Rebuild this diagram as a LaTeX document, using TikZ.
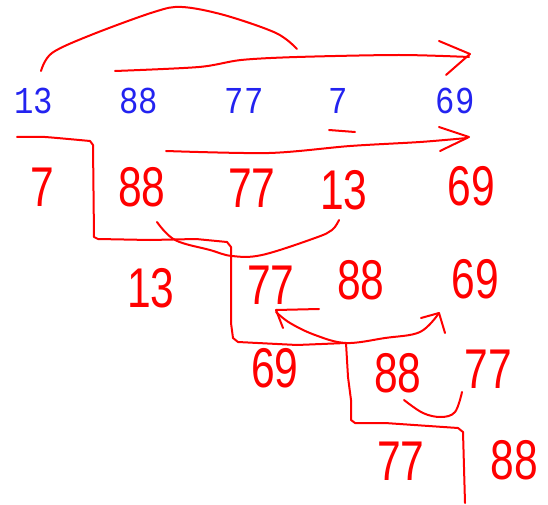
\documentclass[tikz,border=0pt]{standalone}
\usepackage{fontspec}
\newfontfamily\monofont[FakeStretch=0.85]{Liberation Mono}
\newfontfamily\handfont[FakeStretch=0.76]{Liberation Sans}
\definecolor{penred}{RGB}{255,0,0}
\definecolor{penblue}{RGB}{35,35,240}
\begin{document}
\begin{tikzpicture}[x=1pt,y=-1pt,
  bluenum/.style={text=penblue,font=\monofont\fontsize{38}{38}\selectfont,inner sep=0pt},
  rednum/.style={text=penred,font=\handfont\fontsize{56}{56}\selectfont,inner sep=0pt},
  pen/.style={draw=penred,line width=2pt,line cap=round,line join=round}]
\useasboundingbox (0,0) rectangle (548,505);
% blue row
\node[bluenum] (b13) at (34,101) {13};
\node[bluenum] (b88) at (139,101) {88};
\node[bluenum] (b77) at (244,101) {77};
\node[bluenum] (b7)  at (338,101) {7};
\node[bluenum] (b69) at (455,101) {69};
% red row 2
\node[rednum] (r7)   at (42,187) {7};
\node[rednum] (r88)  at (142,187) {88};
\node[rednum] (r77)  at (252,188) {77};
\node[rednum] (r13)  at (344,190) {13};
\node[rednum] (r69)  at (471,186) {69};
% row 3
\node[rednum] (s13)  at (151,288) {13};
\node[rednum] (s77)  at (271,285) {77};
\node[rednum] (s88)  at (361,280) {88};
\node[rednum] (s69)  at (475,279) {69};
% row 4
\node[rednum] (t69)  at (275,368) {69};
\node[rednum] (t88)  at (398,373) {88};
\node[rednum] (t77)  at (488,369) {77};
% row 5
\node[rednum] (u77)  at (401,461) {77};
\node[rednum] (u88)  at (514,460) {88};
% strokes
\draw[pen] plot[smooth,tension=0.55] coordinates {(41,71) (52,53) (91,35) (154,12) (182,7) (224,15) (276,33) (297,49)};
\draw[pen] plot[smooth,tension=0.5] coordinates {(115,71) (199,67) (241,60) (297,57) (399,55) (469,57)};
\draw[pen] (439,41) -- (470,54) -- (446,75);
\draw[pen] (329,130) -- (355,132);
\draw[pen] plot[smooth,tension=0.5] coordinates {(166,151) (269,153) (350,146) (420,142) (467,138)};
\draw[pen] (439,127) -- (469,137) -- (440,151);
\draw[pen] plot[smooth,tension=0.3] coordinates {(17,137) (45,137) (90,141)};
\draw[pen] (90,141) -- (93,145) -- (94,237) -- (98,239) -- (150,240) -- (196,239) -- (227,242) -- (231,247) -- (231,323) -- (233,338) -- (238,342) -- (297,345) -- (346,343);
\draw[pen] plot[smooth,tension=0.6] coordinates {(157,222) (175,240) (210,250) (232,256) (262,255) (315,238) (332,230) (339,220)};
\draw[pen] (319,309) -- (276,310) -- (283,328);
\draw[pen] plot[smooth,tension=0.6] coordinates {(276,312) (290,323) (315,335) (346,343) (385,338) (420,332) (439,313)};
\draw[pen] (421,318) -- (439,313) -- (445,333);
\draw[pen] (346,343) -- (348,377) -- (351,400) -- (351,420) -- (355,423) -- (385,423) -- (458,428) -- (463,432) -- (465,503);
\draw[pen] plot[smooth,tension=0.6] coordinates {(404,400) (423,413) (441,417) (455,412) (462,392)};
\end{tikzpicture}
\end{document}
